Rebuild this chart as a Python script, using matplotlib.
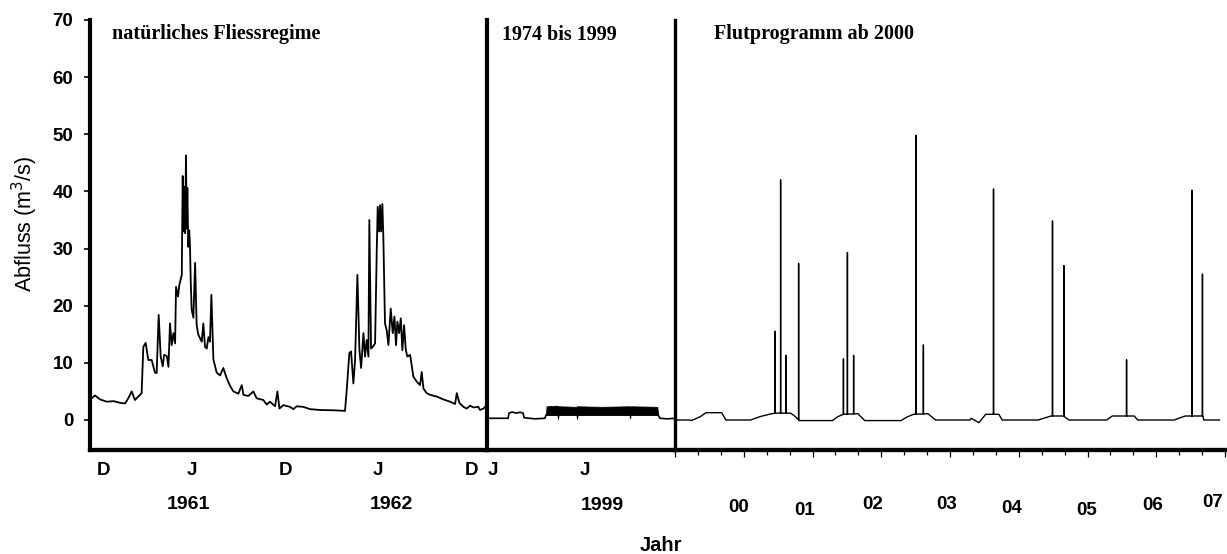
import numpy as np
import matplotlib.pyplot as plt
from matplotlib.transforms import blended_transform_factory
from matplotlib.ticker import MultipleLocator

plt.rcParams['font.family'] = ['Liberation Sans', 'DejaVu Sans']

# Natural regime 1960/61 - 1962, x in months from December 1960
nat_months = [-0.73, -0.52, -0.19, 0.24, 0.67, 1.10, 1.42, 1.63, 1.85, 2.06, 2.28, 2.49,
              2.60, 2.75, 2.92, 3.14, 3.35, 3.46, 3.59, 3.72, 3.85, 3.94, 4.11, 4.22,
              4.32, 4.43, 4.54, 4.65, 4.71, 4.84, 4.92, 5.08, 5.14, 5.20, 5.25, 5.30,
              5.35, 5.40, 5.44, 5.50, 5.56, 5.61, 5.66, 5.72, 5.83, 5.94, 6.04, 6.15,
              6.37, 6.47, 6.58, 6.69, 6.80, 6.90, 6.99, 7.12, 7.33, 7.55, 7.76, 7.98,
              8.19, 8.41, 8.73, 8.95, 9.06, 9.38, 9.70, 9.91, 10.34, 10.56, 10.77, 11.10,
              11.25, 11.38, 11.63, 12.06, 12.28, 12.49, 12.92, 13.35, 14.00, 14.86, 15.61, 15.72,
              15.89, 16.00, 16.15, 16.26, 16.41, 16.54, 16.65, 16.80, 16.90, 17.01, 17.12, 17.18,
              17.29, 17.40, 17.55, 17.66, 17.72, 17.81, 17.87, 17.94, 18.02, 18.08, 18.19, 18.30,
              18.41, 18.56, 18.69, 18.80, 18.90, 18.99, 19.10, 19.21, 19.31, 19.42, 19.53, 19.63,
              19.81, 20.02, 20.24, 20.45, 20.56, 20.67, 20.88, 21.10, 21.53, 21.96, 22.39, 22.71,
              22.82, 22.99, 23.25, 23.46, 23.68, 23.89, 24.21, 24.32, 24.54, 24.65, 24.77]
nat_flow = [3.8, 4.3, 3.6, 3.2, 3.3, 3.0, 2.9, 3.8, 5.0, 3.5, 4.1, 4.7,
            12.8, 13.5, 10.5, 10.5, 8.3, 8.2, 18.4, 11.1, 9.4, 11.4, 11.2, 9.3,
            16.9, 13.1, 15.2, 13.4, 23.3, 21.6, 23.6, 25.4, 42.7, 33.0, 40.8, 32.7,
            46.3, 33.5, 40.6, 30.3, 33.2, 30.5, 24.0, 19.3, 17.9, 27.5, 16.6, 14.9,
            13.7, 16.9, 12.8, 12.5, 14.5, 13.7, 21.9, 10.6, 8.3, 7.8, 9.1, 7.3,
            6.0, 5.0, 4.6, 6.1, 4.4, 4.2, 5.0, 3.8, 3.5, 2.7, 3.2, 2.4,
            5.0, 2.0, 2.6, 2.3, 1.9, 2.4, 2.3, 1.9, 1.75, 1.7, 1.6, 5.2,
            11.7, 12.0, 6.4, 10.5, 25.4, 12.3, 9.1, 15.2, 11.1, 14.0, 11.1, 35.0,
            12.5, 12.8, 13.4, 30.0, 37.3, 33.0, 37.6, 33.0, 37.8, 32.4, 16.9, 15.7,
            13.1, 19.5, 15.2, 18.1, 13.1, 17.2, 15.2, 17.8, 12.2, 16.6, 12.3, 11.1,
            11.4, 7.6, 6.7, 6.1, 8.4, 5.5, 4.7, 4.4, 4.1, 3.6, 3.2, 2.8,
            4.7, 3.0, 2.3, 2.0, 2.5, 2.2, 2.3, 1.75, 2.0, 2.3, 2.0]
nat_ticks = [0, 5.74, 11.74, 17.74, 23.8]
nat_ticklabels = ['D', 'J', 'D', 'J', 'D']
nat_years = ['1961', '1962']
nat_year_pos = [5.48, 18.58]

# Regulated regime 1974-1999, x in months
reg_months = [-0.39, 0.97, 1.03, 1.23, 1.48, 1.74, 1.94, 2.00, 2.71, 3.35, 3.42,
              10.65, 10.77, 11.23, 11.74]
reg_flow = [0.3, 0.3, 1.2, 1.4, 1.2, 1.35, 1.2, 0.4, 0.2, 0.3, 0.9,
            0.9, 0.3, 0.2, 0.3]
band_months = [3.42, 3.45, 4.15, 4.19, 4.23, 5.38, 5.42, 5.46, 7.0, 8.80, 8.84, 8.88, 10.6, 10.65]
band_low = [0.9, 0.9, 0.9, 0.2, 0.9, 0.9, 0.2, 0.9, 0.9, 0.9, 0.3, 0.9, 0.9, 0.9]
band_high = [0.9, 2.4, 2.5, 2.4, 2.4, 2.3, 2.4, 2.4, 2.3, 2.4, 2.3, 2.4, 2.3, 0.9]
reg_ticks = [0, 5.94]
reg_ticklabels = ['J', 'J']
reg_year = '1999'
reg_year_pos = 7.03

# Flood programme from 2000: base flow and flood pulses
flood_base_x = [1999.0, 1999.21, 1999.24, 1999.37, 1999.45, 1999.68, 1999.74, 2000.10, 2000.24,
                2000.37, 2000.45, 2000.68, 2000.73, 2000.81, 2001.29, 2001.37, 2001.45, 2001.66,
                2001.76, 2002.29, 2002.37, 2002.47, 2002.68, 2002.79, 2003.29, 2003.31, 2003.42,
                2003.50, 2003.52, 2003.71, 2003.76, 2004.28, 2004.47, 2004.65, 2004.73, 2005.28,
                2005.36, 2005.68, 2005.73, 2006.26, 2006.42, 2006.68, 2006.69, 2006.92]
flood_base_y = [0.0, 0.0, -0.1, 0.6, 1.28, 1.28, 0.0, 0.0, 0.6,
                1.0, 1.2, 1.2, 0.8, -0.1, -0.1, 0.6, 1.0, 1.1,
                -0.1, -0.1, 0.5, 1.0, 1.1, 0.0, 0.0, 0.3, -0.47,
                0.7, 1.0, 1.0, 0.0, 0.0, 0.7, 0.7, 0.0, 0.0,
                0.7, 0.7, 0.0, 0.0, 0.7, 0.7, 0.0, 0.0]
pulse_x = [2000.457, 2000.536, 2000.614, 2000.798, 2001.450, 2001.508, 2001.598, 2002.508,
           2002.613, 2003.633, 2004.491, 2004.657, 2005.568, 2006.520, 2006.672]
pulse_peak = [15.5, 42.0, 11.3, 27.4, 10.7, 29.3, 11.3, 49.8,
              13.1, 40.4, 34.8, 27.0, 10.5, 40.2, 25.5]
flood_labels = ['00', '01', '02', '03', '04', '05', '06', '07']
flood_label_x = [1999.92, 2000.88, 2001.87, 2002.95, 2003.89, 2004.99, 2005.95, 2006.82]
flood_label_base = [511.7, 514.7, 508.7, 508.7, 512.7, 514.7, 509.7, 506.7]  # pixel rows

yticks = [0, 10, 20, 30, 40, 50, 60, 70]

W, H = 1227, 554
fig = plt.figure(figsize=(W / 100, H / 100), dpi=100)


def fy(py):
    return 1 - py / H


bottom, height = fy(450), (450 - 20) / H
ax1 = fig.add_axes([90 / W, bottom, 397 / W, height])
ax2 = fig.add_axes([487 / W, bottom, 188 / W, height])
ax3 = fig.add_axes([675 / W, bottom, 550 / W, height])

for ax in (ax1, ax2, ax3):
    ax.set_ylim(-5.25, 70)
    ax.spines['top'].set_visible(False)
    ax.spines['right'].set_visible(False)
    ax.spines['bottom'].set_linewidth(3.1)
    ax.spines['left'].set_linewidth(3.0)
    ax.patch.set_visible(False)
ax3.spines['left'].set_linewidth(2.4)

# natural regime
ax1.plot(nat_months, nat_flow, color='black', lw=1.3)
ax1.set_xlim(-0.84, 24.77)
ax1.set_yticks(yticks)
ax1.tick_params(axis='y', length=4, width=1.2, pad=8, labelsize=13.5)
for lbl in ax1.get_yticklabels():
    lbl.set_fontweight('bold')
ax1.set_xticks([])

# regulated
ax2.plot(reg_months, reg_flow, color='black', lw=1.2)
ax2.fill_between(band_months, band_low, band_high, color='black', lw=0.6, edgecolor='black')
ax2.set_xlim(-0.39, 11.74)
ax2.set_yticks([])
ax2.set_xticks([])

# flood programme: each pulse goes straight up from the base flow and back
pulse_base = np.interp(pulse_x, flood_base_x, flood_base_y)
fx = list(flood_base_x)
fyv = list(flood_base_y)
for x, b, p in zip(pulse_x, pulse_base, pulse_peak):
    fx += [x, x, x]
    fyv += [b, p, b]
pts = sorted(zip(fx, range(len(fx)), fyv))
ax3.plot([p[0] for p in pts], [p[2] for p in pts], color='black', lw=1.0)
ax3.set_xlim(1999, 2007)
ax3.set_yticks([])
ax3.xaxis.set_major_locator(MultipleLocator(1))
ax3.xaxis.set_minor_locator(MultipleLocator(1 / 3))
ax3.tick_params(axis='x', which='major', length=4.8, width=0.9, labelbottom=False)
ax3.tick_params(axis='x', which='minor', length=3.6, width=0.9)

# x labels drawn as text below the axes
tr1 = blended_transform_factory(ax1.transData, fig.transFigure)
tr2 = blended_transform_factory(ax2.transData, fig.transFigure)
tr3 = blended_transform_factory(ax3.transData, fig.transFigure)
bold = dict(fontweight='bold', ha='center', va='baseline')
for x, t in zip(nat_ticks, nat_ticklabels):
    ax1.text(x, fy(475), t, transform=tr1, fontsize=13.5, **bold)
for x, t in zip(nat_year_pos, nat_years):
    ax1.text(x, fy(509), t, transform=tr1, fontsize=14, **bold)
for x, t in zip(reg_ticks, reg_ticklabels):
    ax2.text(x, fy(475), t, transform=tr2, fontsize=13.5, **bold)
ax2.text(reg_year_pos, fy(510), reg_year, transform=tr2, fontsize=14, **bold)
for x, t, b in zip(flood_label_x, flood_labels, flood_label_base):
    ax3.text(x, fy(b), t, transform=tr3, fontsize=13.5, **bold)

fig.text(661 / W, fy(551), 'Jahr', fontsize=14.5, **bold)
fig.text(25 / W, fy(224), 'Abfluss (m$^3$/s)', fontsize=15.5, rotation=90,
         ha='center', va='center')

# panel headings
serif = dict(family=['Liberation Serif', 'DejaVu Serif'], fontweight='bold',
             fontsize=14.5, ha='left', va='baseline')
fig.text(112 / W, fy(39.5), 'natürliches Fliessregime', **serif)
fig.text(502 / W, fy(39.5), '1974 bis 1999', **serif)
fig.text(714 / W, fy(39.5), 'Flutprogramm ab 2000', **serif)

fig.savefig('out.png', dpi=100)
